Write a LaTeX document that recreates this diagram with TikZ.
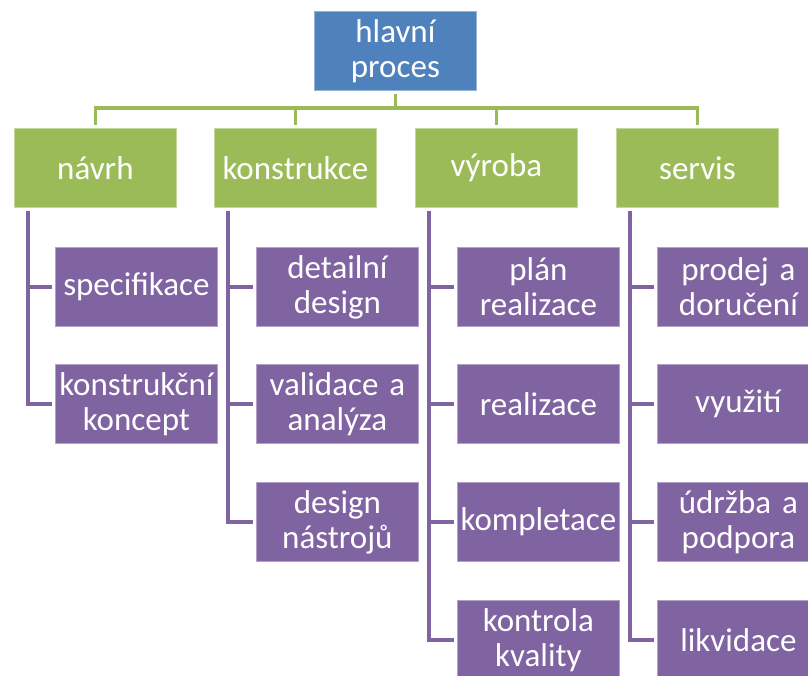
\documentclass[tikz,border=0pt]{standalone}
\usepackage{fontspec}
\setmainfont{Carlito}[WordSpace=0.75]
\usetikzlibrary{calc}
\definecolor{cblue}{HTML}{4F81BD}
\definecolor{cgreen}{HTML}{9BBB59}
\definecolor{cpurple}{HTML}{8064A2}
\tikzset{
  boxbase/.style={anchor=north west, minimum width=162pt, minimum height=79pt, inner sep=0pt,
    text width=160pt, align=center, text=white,
    font=\fontsize{33}{35}\selectfont, line width=0.8pt},
  topbox/.style={boxbase, fill=cblue, draw=cblue!60!white},
  levelbox/.style={boxbase, fill=cgreen, draw=cgreen!60!white},
  leafbox/.style={boxbase, fill=cpurple, draw=cpurple!60!white},
  gline/.style={draw=cgreen, line width=3.5pt},
  pline/.style={draw=cpurple, line width=3.5pt},
}
\begin{document}
\begin{tikzpicture}[x=1pt,y=-1pt]
\useasboundingbox (0,0) rectangle (808,675);
% top
\node[topbox] (top) at (314,11) {hlavní\\proces};
% level 1
\node[levelbox] (n1) at (14,128) {návrh};
\node[levelbox] (n2) at (214,128) {konstrukce};
\node[levelbox] (n3) at (415,128) {výroba};
\node[levelbox] (n4) at (616,128) {servis};
% leaves
\node[leafbox] (a1) at (55,247) {specifikace};
\node[leafbox] (a2) at (55,364) {konstrukční\\koncept};
\node[leafbox] (b1) at (256,247) {detailní\\design};
\node[leafbox] (b2) at (256,364) {validace a\\analýza};
\node[leafbox] (b3) at (256,482) {design\\nástrojů};
\node[leafbox] (c1) at (457,247) {plán\\realizace};
\node[leafbox] (c2) at (457,364) {realizace};
\node[leafbox] (c3) at (457,482) {kompletace};
\node[leafbox] (c4) at (457,600) {kontrola\\kvality};
\node[leafbox] (d1) at (657,247) {prodej a\\doručení};
\node[leafbox] (d2) at (657,364) {využití};
\node[leafbox] (d3) at (657,482) {údržba a\\podpora};
\node[leafbox] (d4) at (657,600) {likvidace};
% green connectors
\coordinate (bus) at (0,108);
\draw[gline] ($(top.south)+(0,-3pt)$) -- (top.south |- bus);
\draw[gline, line join=miter] ($(n1.north)+(0,3pt)$) -- (n1.north |- bus) -- (n4.north |- bus) -- ($(n4.north)+(0,3pt)$);
\draw[gline] ($(n2.north)+(0,3pt)$) -- (n2.north |- bus);
\draw[gline] ($(n3.north)+(0,3pt)$) -- (n3.north |- bus);
% purple connectors
\foreach \p/\last/\list in {n1/a2/{a1,a2}, n2/b3/{b1,b2,b3}, n3/c4/{c1,c2,c3,c4}, n4/d4/{d1,d2,d3,d4}}{
  \coordinate (\p v) at ($(\p.south west)+(14pt,-3pt)$);
  \draw[pline, line join=miter] (\p v) -- (\p v |- \last.west) -- ($(\last.west)+(-3pt,0)$);
  \foreach \c in \list {
    \draw[pline] (\p v |- \c.west) -- ($(\c.west)+(-3pt,0)$);
  }
}
\end{tikzpicture}
\end{document}
